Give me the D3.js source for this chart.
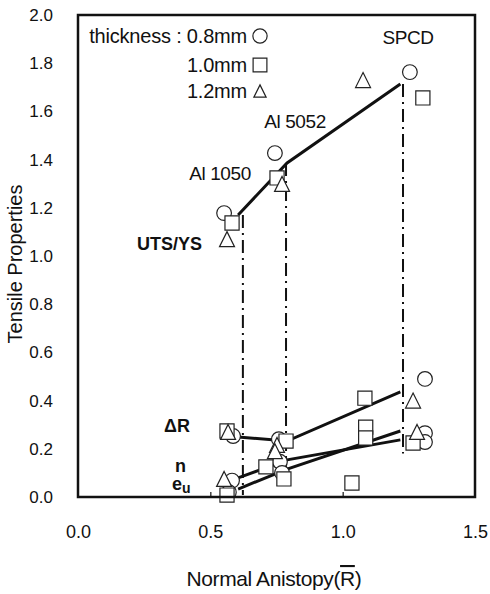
<!DOCTYPE html>
<html>
<head>
<meta charset="utf-8">
<script src="https://cdn.jsdelivr.net/npm/d3@7"></script>
<style>
  body { margin: 0; background: #fff; }
  text { font-family: "Liberation Sans", Arial, sans-serif; fill: #111; }
</style>
</head>
<body>
<div id="chart"></div>
<script>
// axis ticks
const xTicks = [0, 0.5, 1.0, 1.5];
const yTicks = [0, 0.2, 0.4, 0.6, 0.8, 1.0, 1.2, 1.4, 1.6, 1.8, 2.0];

// materials and the average lines through them
const materials = ["Al 1050", "Al 5052", "SPCD"];
const lineR = [0.605, 0.790, 1.218];
const utsLine = [1.170, 1.386, 1.714];
const dRLine = [0.249, 0.232, 0.436];
const nLine = [0.079, 0.154, 0.237];
const euLine = [0.033, 0.116, 0.274];

// dash-dot guides: R position, top (on UTS/YS line) and bottom value
const guideR = [0.623, 0.786, 1.228];
const guideTop = [1.170, 1.386, 1.714];
const guideBottom = [0.008, 0.090, 0.180];

// measured points [R, value] by sheet thickness
const circle08 = [[0.552, 1.178], [0.744, 1.427], [1.254, 1.763],
  [0.586, 0.253], [0.759, 0.240], [1.311, 0.490],
  [0.582, 0.068], [0.570, 0.020], [0.763, 0.146], [0.771, 0.100], [1.311, 0.265], [1.311, 0.228]];
const square10 = [[0.582, 1.137], [0.752, 1.324], [1.303, 1.656],
  [0.563, 0.274], [0.786, 0.232], [1.084, 0.410],
  [0.563, 0.008], [0.710, 0.125], [0.778, 0.075], [1.087, 0.290], [1.087, 0.245], [1.035, 0.058], [1.266, 0.224]];
const triangle12 = [[0.563, 1.070], [0.771, 1.299], [1.077, 1.730],
  [0.567, 0.270], [0.752, 0.216], [1.266, 0.400],
  [0.552, 0.075], [0.744, 0.190], [1.281, 0.270]];

const legendLabels = ["thickness : 0.8mm", "1.0mm", "1.2mm"];

const width = 490, height = 594;
const pLeft = 78, pRight = 475, pTop = 15, pBottom = 497;

const svg = d3.select("#chart").append("svg")
  .attr("width", width)
  .attr("height", height);

const x = d3.scaleLinear().domain([0, 1.5]).range([pLeft, pRight]);
const y = d3.scaleLinear().domain([0, 2]).range([pBottom, pTop]);

// tick labels
const yAxis = svg.append("g")
  .attr("transform", `translate(${pLeft},0)`)
  .call(d3.axisLeft(y).tickValues(yTicks).tickFormat(d3.format(".1f")).tickSize(0).tickPadding(25));
yAxis.select(".domain").remove();
yAxis.selectAll("text").attr("font-size", 17).attr("font-family", "Liberation Sans, Arial, sans-serif").attr("fill", "#111");

const xAxis = svg.append("g")
  .attr("transform", `translate(0,${pBottom})`)
  .call(d3.axisBottom(x).tickValues(xTicks).tickFormat(d3.format(".1f")).tickSize(0).tickPadding(28));
xAxis.select(".domain").remove();
xAxis.selectAll("text").attr("font-size", 18).attr("font-family", "Liberation Sans, Arial, sans-serif").attr("fill", "#111");

// small inner ticks on the bottom
svg.append("g")
  .attr("transform", `translate(0,${pBottom})`)
  .call(d3.axisBottom(x).tickValues([0.5, 1.0]).tickFormat("").tickSizeInner(-5).tickSizeOuter(0))
  .call(g => g.select(".domain").remove())
  .selectAll("line").attr("stroke", "#111").attr("stroke-width", 1.2);

// titles
svg.append("text")
  .attr("transform", `translate(22,264) rotate(-90)`)
  .attr("text-anchor", "middle")
  .attr("font-size", 20)
  .text("Tensile Properties");

const xt = svg.append("text")
  .attr("x", 274).attr("y", 586)
  .attr("text-anchor", "middle")
  .attr("font-size", 21)
  .attr("letter-spacing", -0.4);
xt.append("tspan").text("Normal Anistopy(");
xt.append("tspan").attr("text-decoration", "overline").text("R");
xt.append("tspan").text(")");

// dash-dot guides
svg.append("g").selectAll("line")
  .data(guideR)
  .join("line")
  .attr("x1", d => x(d)).attr("x2", d => x(d))
  .attr("y1", (d, i) => y(guideTop[i]))
  .attr("y2", (d, i) => y(guideBottom[i]))
  .attr("stroke", "#111")
  .attr("stroke-width", 2)
  .attr("stroke-dasharray", "13,5,2,5");

// average lines
const line = d3.line().x((d, i) => x(lineR[i])).y(d => y(d));
[utsLine, dRLine, nLine, euLine].forEach(s => {
  svg.append("path")
    .datum(s)
    .attr("fill", "none")
    .attr("stroke", "#111")
    .attr("stroke-width", 3)
    .attr("d", line);
});

// markers
const triangleType = {
  draw(ctx, size) {
    const h = Math.sqrt(size);
    ctx.moveTo(0, -h / 2);
    ctx.lineTo(h / 2, h / 2);
    ctx.lineTo(-h / 2, h / 2);
    ctx.closePath();
  }
};
const shapes = [
  { data: circle08, type: d3.symbolCircle, size: 170 },
  { data: square10, type: d3.symbolSquare, size: 200 },
  { data: triangle12, type: triangleType, size: 225 }
];
shapes.forEach(s => {
  svg.append("g").selectAll("path")
    .data(s.data)
    .join("path")
    .attr("transform", d => `translate(${x(d[0])},${y(d[1])})`)
    .attr("d", d3.symbol(s.type, s.size))
    .attr("fill", "#fff")
    .attr("stroke", "#222")
    .attr("stroke-width", 1.2);
});

// frame
svg.append("rect")
  .attr("x", pLeft).attr("y", pTop)
  .attr("width", pRight - pLeft).attr("height", pBottom - pTop)
  .attr("fill", "none")
  .attr("stroke", "#111")
  .attr("stroke-width", 2.5);

// legend
const legendY = [43, 72, 98];
const legendSym = [{ type: d3.symbolCircle, size: 160 }, { type: d3.symbolSquare, size: 190 }, { type: triangleType, size: 150 }];
legendLabels.forEach((t, i) => {
  svg.append("text")
    .attr("x", 247).attr("y", legendY[i])
    .attr("text-anchor", "end")
    .attr("font-size", 20)
    .attr("letter-spacing", -0.2)
    .text(t);
  svg.append("path")
    .attr("transform", `translate(260,${legendY[i] - 7})`)
    .attr("d", d3.symbol(legendSym[i].type, legendSym[i].size))
    .attr("fill", "#fff")
    .attr("stroke", "#222")
    .attr("stroke-width", 1.2);
});

// material labels
const matPos = [[220, 180], [295, 128], [408, 44]];
materials.forEach((m, i) => {
  svg.append("text")
    .attr("x", matPos[i][0]).attr("y", matPos[i][1])
    .attr("text-anchor", "middle")
    .attr("font-size", 19)
    .attr("letter-spacing", -0.4)
    .text(m);
});

// property labels
svg.append("text").attr("x", 137).attr("y", 250).attr("font-size", 18).attr("font-weight", "bold").text("UTS/YS");
svg.append("text").attr("x", 164).attr("y", 432).attr("font-size", 18).attr("font-weight", "bold").text("ΔR");
svg.append("text").attr("x", 175).attr("y", 472).attr("font-size", 18).attr("font-weight", "bold").text("n");
const eu = svg.append("text").attr("x", 172).attr("y", 490).attr("font-size", 18).attr("font-weight", "bold");
eu.append("tspan").text("e");
eu.append("tspan").attr("dy", 3).attr("font-size", 14).text("u");
</script>
</body>
</html>
